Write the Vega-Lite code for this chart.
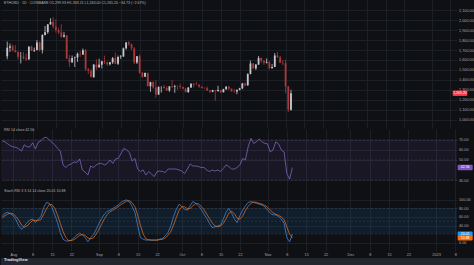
{
  "$schema": "https://vega.github.io/schema/vega-lite/v6.json",
  "padding": 0,
  "autosize": {"type": "pad"},
  "background": "#0f1014",
  "spacing": 0,
  "config": {
    "view": {"stroke": null, "fill": "#0f1014"},
    "axis": {"labelFont": "Liberation Sans", "labelFontSize": 3.8, "labelColor": "#a3a6af", "gridColor": "#1c1f26", "gridWidth": 1, "domain": false, "ticks": false, "title": null, "labelOverlap": false, "labelFlush": false, "labelSeparation": 0, "labelBound": false, "tickCount": 60},
    "title": {"font": "Liberation Sans", "fontSize": 3.6, "color": "#b2b5be", "fontWeight": "normal", "anchor": "start", "frame": "group", "baseline": "middle"},
    "text": {"font": "Liberation Sans"}
  },
  "datasets": {
    "eth": [
      {"date":"2022-07-28","o":1636,"h":1785,"l":1607,"c":1724,"rsi":69,"k":61,"dd":58},
      {"date":"2022-07-29","o":1724,"h":1765,"l":1680,"c":1738,"rsi":68,"k":69,"dd":63},
      {"date":"2022-07-30","o":1738,"h":1756,"l":1685,"c":1696,"rsi":66,"k":71,"dd":67},
      {"date":"2022-07-31","o":1696,"h":1750,"l":1673,"c":1680,"rsi":64,"k":67,"dd":69},
      {"date":"2022-08-01","o":1680,"h":1690,"l":1605,"c":1632,"rsi":63,"k":63,"dd":67},
      {"date":"2022-08-02","o":1632,"h":1680,"l":1565,"c":1633,"rsi":62.5,"k":53,"dd":61},
      {"date":"2022-08-03","o":1633,"h":1680,"l":1605,"c":1618,"rsi":61,"k":39,"dd":52},
      {"date":"2022-08-04","o":1618,"h":1665,"l":1590,"c":1607,"rsi":59,"k":31,"dd":41},
      {"date":"2022-08-05","o":1607,"h":1740,"l":1600,"c":1733,"rsi":65,"k":39,"dd":36},
      {"date":"2022-08-06","o":1733,"h":1745,"l":1690,"c":1694,"rsi":63,"k":47,"dd":39},
      {"date":"2022-08-07","o":1694,"h":1725,"l":1680,"c":1701,"rsi":63,"k":53,"dd":46},
      {"date":"2022-08-08","o":1701,"h":1800,"l":1696,"c":1777,"rsi":67,"k":55,"dd":52},
      {"date":"2022-08-09","o":1777,"h":1786,"l":1685,"c":1702,"rsi":61,"k":47,"dd":52},
      {"date":"2022-08-10","o":1702,"h":1858,"l":1666,"c":1852,"rsi":67.5,"k":55,"dd":52},
      {"date":"2022-08-11","o":1852,"h":1942,"l":1847,"c":1880,"rsi":69,"k":61,"dd":54},
      {"date":"2022-08-12","o":1880,"h":1960,"l":1863,"c":1958,"rsi":72,"k":82,"dd":66},
      {"date":"2022-08-13","o":1958,"h":2020,"l":1955,"c":1982,"rsi":72.5,"k":94,"dd":79},
      {"date":"2022-08-14","o":1982,"h":2031,"l":1915,"c":1936,"rsi":70,"k":92,"dd":89},
      {"date":"2022-08-15","o":1936,"h":2010,"l":1875,"c":1902,"rsi":67.5,"k":82,"dd":89},
      {"date":"2022-08-16","o":1902,"h":1924,"l":1860,"c":1877,"rsi":65,"k":65,"dd":80},
      {"date":"2022-08-17","o":1877,"h":1960,"l":1822,"c":1833,"rsi":61.5,"k":47,"dd":65},
      {"date":"2022-08-18","o":1833,"h":1880,"l":1825,"c":1848,"rsi":59,"k":24,"dd":45},
      {"date":"2022-08-19","o":1848,"h":1850,"l":1610,"c":1613,"rsi":45,"k":8,"dd":26},
      {"date":"2022-08-20","o":1613,"h":1650,"l":1530,"c":1578,"rsi":42.5,"k":4,"dd":12},
      {"date":"2022-08-21","o":1578,"h":1645,"l":1570,"c":1620,"rsi":45,"k":4,"dd":5},
      {"date":"2022-08-22","o":1620,"h":1635,"l":1530,"c":1625,"rsi":46,"k":6,"dd":5},
      {"date":"2022-08-23","o":1625,"h":1675,"l":1580,"c":1662,"rsi":48,"k":12,"dd":7},
      {"date":"2022-08-24","o":1662,"h":1690,"l":1630,"c":1656,"rsi":47.5,"k":18,"dd":12},
      {"date":"2022-08-25","o":1656,"h":1715,"l":1650,"c":1697,"rsi":51,"k":22,"dd":17},
      {"date":"2022-08-26","o":1697,"h":1710,"l":1490,"c":1506,"rsi":40,"k":18,"dd":19},
      {"date":"2022-08-27","o":1506,"h":1520,"l":1460,"c":1490,"rsi":38,"k":12,"dd":17},
      {"date":"2022-08-28","o":1490,"h":1510,"l":1425,"c":1428,"rsi":35,"k":2,"dd":11},
      {"date":"2022-08-29","o":1428,"h":1560,"l":1420,"c":1553,"rsi":44,"k":12,"dd":9},
      {"date":"2022-08-30","o":1553,"h":1605,"l":1500,"c":1525,"rsi":42.5,"k":18,"dd":11},
      {"date":"2022-08-31","o":1525,"h":1612,"l":1525,"c":1553,"rsi":45,"k":31,"dd":20},
      {"date":"2022-09-01","o":1553,"h":1592,"l":1515,"c":1586,"rsi":46.5,"k":45,"dd":31},
      {"date":"2022-09-02","o":1586,"h":1643,"l":1560,"c":1577,"rsi":46.5,"k":57,"dd":44},
      {"date":"2022-09-03","o":1577,"h":1580,"l":1540,"c":1557,"rsi":45,"k":67,"dd":56},
      {"date":"2022-09-04","o":1557,"h":1580,"l":1545,"c":1576,"rsi":46.5,"k":73,"dd":66},
      {"date":"2022-09-05","o":1576,"h":1630,"l":1560,"c":1618,"rsi":50,"k":76,"dd":72},
      {"date":"2022-09-06","o":1618,"h":1675,"l":1560,"c":1562,"rsi":46.5,"k":80,"dd":76},
      {"date":"2022-09-07","o":1562,"h":1645,"l":1550,"c":1630,"rsi":51,"k":84,"dd":80},
      {"date":"2022-09-08","o":1630,"h":1650,"l":1610,"c":1635,"rsi":51.5,"k":88,"dd":84},
      {"date":"2022-09-09","o":1635,"h":1725,"l":1633,"c":1717,"rsi":56.5,"k":94,"dd":89},
      {"date":"2022-09-10","o":1717,"h":1780,"l":1705,"c":1776,"rsi":61.5,"k":98,"dd":93},
      {"date":"2022-09-11","o":1776,"h":1790,"l":1740,"c":1760,"rsi":60,"k":100,"dd":97},
      {"date":"2022-09-12","o":1760,"h":1765,"l":1700,"c":1716,"rsi":57.5,"k":96,"dd":98},
      {"date":"2022-09-13","o":1716,"h":1730,"l":1560,"c":1574,"rsi":49,"k":84,"dd":93},
      {"date":"2022-09-14","o":1574,"h":1640,"l":1560,"c":1637,"rsi":51.5,"k":71,"dd":84},
      {"date":"2022-09-15","o":1637,"h":1655,"l":1460,"c":1471,"rsi":41,"k":41,"dd":65},
      {"date":"2022-09-16","o":1471,"h":1480,"l":1418,"c":1432,"rsi":38.5,"k":12,"dd":41},
      {"date":"2022-09-17","o":1432,"h":1475,"l":1428,"c":1470,"rsi":40,"k":8,"dd":20},
      {"date":"2022-09-18","o":1470,"h":1472,"l":1335,"c":1336,"rsi":35,"k":6,"dd":9},
      {"date":"2022-09-19","o":1336,"h":1380,"l":1280,"c":1378,"rsi":38.5,"k":6,"dd":7},
      {"date":"2022-09-20","o":1378,"h":1385,"l":1310,"c":1324,"rsi":36,"k":6,"dd":6},
      {"date":"2022-09-21","o":1324,"h":1395,"l":1220,"c":1252,"rsi":33.5,"k":6,"dd":6},
      {"date":"2022-09-22","o":1252,"h":1335,"l":1250,"c":1328,"rsi":38.5,"k":6,"dd":6},
      {"date":"2022-09-23","o":1328,"h":1335,"l":1272,"c":1328,"rsi":39,"k":8,"dd":7},
      {"date":"2022-09-24","o":1328,"h":1350,"l":1310,"c":1317,"rsi":38.5,"k":10,"dd":8},
      {"date":"2022-09-25","o":1317,"h":1335,"l":1290,"c":1294,"rsi":37.5,"k":16,"dd":11},
      {"date":"2022-09-26","o":1294,"h":1335,"l":1280,"c":1335,"rsi":41,"k":24,"dd":17},
      {"date":"2022-09-27","o":1335,"h":1400,"l":1318,"c":1330,"rsi":41,"k":39,"dd":26},
      {"date":"2022-09-28","o":1330,"h":1350,"l":1270,"c":1337,"rsi":41,"k":61,"dd":41},
      {"date":"2022-09-29","o":1337,"h":1345,"l":1300,"c":1336,"rsi":41,"k":78,"dd":59},
      {"date":"2022-09-30","o":1336,"h":1365,"l":1310,"c":1328,"rsi":40,"k":90,"dd":76},
      {"date":"2022-10-01","o":1328,"h":1332,"l":1305,"c":1312,"rsi":39,"k":84,"dd":84},
      {"date":"2022-10-02","o":1312,"h":1320,"l":1275,"c":1276,"rsi":36.5,"k":78,"dd":84},
      {"date":"2022-10-03","o":1276,"h":1327,"l":1270,"c":1323,"rsi":41,"k":76,"dd":79},
      {"date":"2022-10-04","o":1323,"h":1365,"l":1320,"c":1362,"rsi":46,"k":86,"dd":80},
      {"date":"2022-10-05","o":1362,"h":1365,"l":1324,"c":1352,"rsi":44,"k":96,"dd":86},
      {"date":"2022-10-06","o":1352,"h":1380,"l":1345,"c":1351,"rsi":44,"k":92,"dd":91},
      {"date":"2022-10-07","o":1351,"h":1357,"l":1320,"c":1332,"rsi":43.5,"k":86,"dd":91},
      {"date":"2022-10-08","o":1332,"h":1337,"l":1315,"c":1317,"rsi":42.5,"k":78,"dd":85},
      {"date":"2022-10-09","o":1317,"h":1325,"l":1310,"c":1316,"rsi":42.5,"k":67,"dd":77},
      {"date":"2022-10-10","o":1316,"h":1332,"l":1290,"c":1292,"rsi":40,"k":57,"dd":67},
      {"date":"2022-10-11","o":1292,"h":1296,"l":1270,"c":1280,"rsi":38.5,"k":45,"dd":56},
      {"date":"2022-10-12","o":1280,"h":1300,"l":1275,"c":1296,"rsi":40,"k":35,"dd":46},
      {"date":"2022-10-13","o":1296,"h":1298,"l":1190,"c":1288,"rsi":39,"k":37,"dd":39},
      {"date":"2022-10-14","o":1288,"h":1340,"l":1280,"c":1297,"rsi":40,"k":39,"dd":37},
      {"date":"2022-10-15","o":1297,"h":1300,"l":1270,"c":1275,"rsi":38.5,"k":41,"dd":39},
      {"date":"2022-10-16","o":1275,"h":1310,"l":1275,"c":1306,"rsi":41.5,"k":55,"dd":45},
      {"date":"2022-10-17","o":1306,"h":1338,"l":1300,"c":1331,"rsi":45,"k":71,"dd":56},
      {"date":"2022-10-18","o":1331,"h":1340,"l":1295,"c":1311,"rsi":43.5,"k":80,"dd":69},
      {"date":"2022-10-19","o":1311,"h":1314,"l":1280,"c":1286,"rsi":41,"k":69,"dd":73},
      {"date":"2022-10-20","o":1286,"h":1310,"l":1270,"c":1283,"rsi":41,"k":55,"dd":68},
      {"date":"2022-10-21","o":1283,"h":1305,"l":1255,"c":1299,"rsi":42.5,"k":47,"dd":57},
      {"date":"2022-10-22","o":1299,"h":1320,"l":1295,"c":1315,"rsi":45,"k":63,"dd":55},
      {"date":"2022-10-23","o":1315,"h":1370,"l":1305,"c":1364,"rsi":51.5,"k":76,"dd":62},
      {"date":"2022-10-24","o":1364,"h":1372,"l":1335,"c":1345,"rsi":50,"k":86,"dd":75},
      {"date":"2022-10-25","o":1345,"h":1465,"l":1340,"c":1460,"rsi":63,"k":94,"dd":85},
      {"date":"2022-10-26","o":1460,"h":1595,"l":1455,"c":1565,"rsi":71.5,"k":96,"dd":92},
      {"date":"2022-10-27","o":1565,"h":1570,"l":1510,"c":1515,"rsi":66.5,"k":94,"dd":95},
      {"date":"2022-10-28","o":1515,"h":1560,"l":1500,"c":1554,"rsi":68,"k":92,"dd":94},
      {"date":"2022-10-29","o":1554,"h":1640,"l":1550,"c":1620,"rsi":71,"k":90,"dd":92},
      {"date":"2022-10-30","o":1620,"h":1625,"l":1570,"c":1590,"rsi":68,"k":88,"dd":90},
      {"date":"2022-10-31","o":1590,"h":1600,"l":1550,"c":1571,"rsi":66.5,"k":84,"dd":87},
      {"date":"2022-11-01","o":1571,"h":1615,"l":1565,"c":1578,"rsi":66,"k":76,"dd":83},
      {"date":"2022-11-02","o":1578,"h":1590,"l":1505,"c":1518,"rsi":58,"k":69,"dd":76},
      {"date":"2022-11-03","o":1518,"h":1560,"l":1515,"c":1530,"rsi":60,"k":65,"dd":70},
      {"date":"2022-11-04","o":1530,"h":1670,"l":1528,"c":1645,"rsi":68,"k":65,"dd":66},
      {"date":"2022-11-05","o":1645,"h":1680,"l":1620,"c":1628,"rsi":66,"k":61,"dd":64},
      {"date":"2022-11-06","o":1628,"h":1640,"l":1570,"c":1571,"rsi":60,"k":55,"dd":60},
      {"date":"2022-11-07","o":1571,"h":1600,"l":1548,"c":1567,"rsi":58,"k":45,"dd":54},
      {"date":"2022-11-08","o":1567,"h":1603,"l":1265,"c":1335,"rsi":36.5,"k":12,"dd":37},
      {"date":"2022-11-09","o":1335,"h":1340,"l":1075,"c":1100,"rsi":31,"k":2,"dd":20},
      {"date":"2022-11-10","o":1100,"h":1300,"l":1090,"c":1265,"rsi":42.5,"k":20,"dd":11}
    ]
  },
  "vconcat": [
    {
      "width": 456,
      "height": 128,
      "title": {"text": "ETHUSD · 1D · COINBASE   O1,299.93  H1,333.11  L1,263.00  C1,265.20  −34.73 (−2.67%)", "offset": -5, "dx": 3},
      "data": {"name": "eth"},
      "layer": [
        {
          "mark": {"type": "rule", "strokeWidth": 0.8},
          "encoding": {
            "x": {"field": "date", "type": "temporal",
              "scale": {"type": "utc", "domain": [{"year": 2022, "month": 7, "date": 27, "hours": 13, "utc": true}, {"year": 2023, "month": 1, "date": 8, "hours": 14, "utc": true}]},
              "axis": {"orient": "bottom", "labels": false, "grid": true, "minExtent": 0, "maxExtent": 0, "labelOverlap": false, "tickCount": 60,
                "values": [{"year":2022,"month":8,"date":1,"utc":true},{"year":2022,"month":8,"date":8,"utc":true},{"year":2022,"month":8,"date":15,"utc":true},{"year":2022,"month":8,"date":22,"utc":true},{"year":2022,"month":9,"date":1,"utc":true},{"year":2022,"month":9,"date":8,"utc":true},{"year":2022,"month":9,"date":15,"utc":true},{"year":2022,"month":9,"date":22,"utc":true},{"year":2022,"month":10,"date":1,"utc":true},{"year":2022,"month":10,"date":8,"utc":true},{"year":2022,"month":10,"date":15,"utc":true},{"year":2022,"month":10,"date":22,"utc":true},{"year":2022,"month":11,"date":1,"utc":true},{"year":2022,"month":11,"date":8,"utc":true},{"year":2022,"month":11,"date":15,"utc":true},{"year":2022,"month":11,"date":22,"utc":true},{"year":2022,"month":12,"date":1,"utc":true},{"year":2022,"month":12,"date":8,"utc":true},{"year":2022,"month":12,"date":15,"utc":true},{"year":2022,"month":12,"date":22,"utc":true},{"year":2023,"month":1,"date":1,"utc":true},{"year":2023,"month":1,"date":8,"utc":true}]}},
            "y": {"field": "l", "type": "quantitative",
              "scale": {"domain": [966, 2153], "zero": false, "nice": false},
              "axis": {"orient": "right", "grid": true, "format": ",.2f", "labelPadding": 1.5, "minExtent": 18, "maxExtent": 18, "labelOverlap": false, "tickCount": 60,
                "values": [1000, 1100, 1200, 1300, 1400, 1500, 1600, 1700, 1800, 1900, 2000, 2100]}},
            "y2": {"field": "h"},
            "color": {"condition": {"test": "datum.c >= datum.o", "value": "#c4c7cf"}, "value": "#a8393a"}
          }
        },
        {
          "mark": {"type": "bar", "size": 1.8},
          "encoding": {
            "x": {"field": "date", "type": "temporal"},
            "y": {"field": "o", "type": "quantitative"},
            "y2": {"field": "c"},
            "color": {"condition": {"test": "datum.c >= datum.o", "value": "#c4c7cf"}, "value": "#a8393a"}
          }
        },
        {
          "data": {"values": [{"v": 1265.2}]},
          "mark": {"type": "bar", "size": 5.5, "color": "#f23645", "cornerRadius": 0.8},
          "encoding": {
            "x": {"datum": {"year": 2023, "month": 1, "date": 8, "hours": 20, "utc": true}, "type": "temporal"},
            "x2": {"datum": {"year": 2023, "month": 1, "date": 14, "hours": 6, "utc": true}},
            "y": {"field": "v", "type": "quantitative"}
          }
        },
        {
          "data": {"values": [{"v": 1265.2}]},
          "mark": {"type": "text", "fontSize": 3.5, "color": "#ffffff", "align": "center", "baseline": "middle"},
          "encoding": {
            "x": {"datum": {"year": 2023, "month": 1, "date": 11, "hours": 13, "utc": true}, "type": "temporal"},
            "y": {"field": "v", "type": "quantitative"},
            "text": {"field": "v", "type": "quantitative", "format": ",.2f"}
          }
        }
      ]
    },
    {
      "width": 456,
      "height": 60,
      "title": {"text": "RSI 14 close   42.56", "offset": -2.6, "dx": 3},
      "layer": [
        {
          "data": {"values": [{"lo": 30, "hi": 70}]},
          "mark": {"type": "rect", "fill": "#7e57c2", "fillOpacity": 0.1},
          "encoding": {
            "y": {"field": "lo", "type": "quantitative",
              "scale": {"domain": [26.1, 75.8], "zero": false, "nice": false},
              "axis": {"orient": "right", "grid": true, "format": ".2f", "labelPadding": 1.5, "minExtent": 18, "maxExtent": 18, "labelOverlap": false, "tickCount": 60, "values": [30, 50, 60, 70]}},
            "y2": {"field": "hi"}
          }
        },
        {
          "data": {"values": [{"v": 30}, {"v": 50}, {"v": 70}]},
          "mark": {"type": "rule", "stroke": "#5d606b", "strokeWidth": 0.6, "strokeDash": [2, 2], "opacity": 0.5},
          "encoding": {"y": {"field": "v", "type": "quantitative"}}
        },
        {
          "data": {"name": "eth"},
          "mark": {"type": "line", "color": "#8a6fcf", "strokeWidth": 0.7},
          "encoding": {
            "x": {"field": "date", "type": "temporal",
              "scale": {"type": "utc", "domain": [{"year": 2022, "month": 7, "date": 27, "hours": 13, "utc": true}, {"year": 2023, "month": 1, "date": 8, "hours": 14, "utc": true}]},
              "axis": {"orient": "bottom", "labels": false, "grid": true, "minExtent": 0, "maxExtent": 0, "labelOverlap": false, "tickCount": 60,
                "values": [{"year":2022,"month":8,"date":1,"utc":true},{"year":2022,"month":8,"date":8,"utc":true},{"year":2022,"month":8,"date":15,"utc":true},{"year":2022,"month":8,"date":22,"utc":true},{"year":2022,"month":9,"date":1,"utc":true},{"year":2022,"month":9,"date":8,"utc":true},{"year":2022,"month":9,"date":15,"utc":true},{"year":2022,"month":9,"date":22,"utc":true},{"year":2022,"month":10,"date":1,"utc":true},{"year":2022,"month":10,"date":8,"utc":true},{"year":2022,"month":10,"date":15,"utc":true},{"year":2022,"month":10,"date":22,"utc":true},{"year":2022,"month":11,"date":1,"utc":true},{"year":2022,"month":11,"date":8,"utc":true},{"year":2022,"month":11,"date":15,"utc":true},{"year":2022,"month":11,"date":22,"utc":true},{"year":2022,"month":12,"date":1,"utc":true},{"year":2022,"month":12,"date":8,"utc":true},{"year":2022,"month":12,"date":15,"utc":true},{"year":2022,"month":12,"date":22,"utc":true},{"year":2023,"month":1,"date":1,"utc":true},{"year":2023,"month":1,"date":8,"utc":true}]}},
            "y": {"field": "rsi", "type": "quantitative"}
          }
        },
        {
          "data": {"values": [{"v": 42.56}]},
          "mark": {"type": "bar", "size": 5.5, "color": "#7e57c2", "cornerRadius": 0.8},
          "encoding": {
            "x": {"datum": {"year": 2023, "month": 1, "date": 8, "hours": 20, "utc": true}, "type": "temporal"},
            "x2": {"datum": {"year": 2023, "month": 1, "date": 14, "hours": 6, "utc": true}},
            "y": {"field": "v", "type": "quantitative"}
          }
        },
        {
          "data": {"values": [{"v": 42.56}]},
          "mark": {"type": "text", "fontSize": 3.5, "color": "#ffffff", "align": "center", "baseline": "middle"},
          "encoding": {
            "x": {"datum": {"year": 2023, "month": 1, "date": 11, "hours": 13, "utc": true}, "type": "temporal"},
            "y": {"field": "v", "type": "quantitative"},
            "text": {"field": "v", "type": "quantitative", "format": ".2f"}
          }
        }
      ]
    },
    {
      "width": 456,
      "height": 62,
      "title": {"text": "Stoch RSI 3 3 14 14 close   20.01   10.88", "offset": -3.7, "dx": 3},
      "layer": [
        {
          "data": {"values": [{"lo": 20, "hi": 80}]},
          "mark": {"type": "rect", "fill": "#2196f3", "fillOpacity": 0.1},
          "encoding": {
            "y": {"field": "lo", "type": "quantitative",
              "scale": {"domain": [-7.8, 113.7], "zero": false, "nice": false},
              "axis": {"orient": "right", "grid": true, "format": ".2f", "labelPadding": 1.5, "minExtent": 18, "maxExtent": 18, "labelOverlap": false, "tickCount": 60, "values": [0, 40, 60, 80, 100]}},
            "y2": {"field": "hi"}
          }
        },
        {
          "data": {"values": [{"v": 20}, {"v": 50}, {"v": 80}]},
          "mark": {"type": "rule", "stroke": "#5d606b", "strokeWidth": 0.6, "strokeDash": [2, 2], "opacity": 0.5},
          "encoding": {"y": {"field": "v", "type": "quantitative"}}
        },
        {
          "data": {"name": "eth"},
          "mark": {"type": "line", "color": "#4a8fe8", "strokeWidth": 0.7},
          "encoding": {
            "x": {"field": "date", "type": "temporal",
              "scale": {"type": "utc", "domain": [{"year": 2022, "month": 7, "date": 27, "hours": 13, "utc": true}, {"year": 2023, "month": 1, "date": 8, "hours": 14, "utc": true}]},
              "axis": {"orient": "bottom", "labels": true, "grid": true, "labelPadding": 1.5, "minExtent": 7, "maxExtent": 7, "labelAlign": "center", "labelOverlap": false, "labelFlush": false, "tickCount": 60,
                "labelExpr": "utcdate(datum.value) == 1 ? (utcmonth(datum.value) == 0 ? utcFormat(datum.value, '%Y') : utcFormat(datum.value, '%b')) : '' + utcdate(datum.value)",
                "values": [{"year":2022,"month":8,"date":1,"utc":true},{"year":2022,"month":8,"date":8,"utc":true},{"year":2022,"month":8,"date":15,"utc":true},{"year":2022,"month":8,"date":22,"utc":true},{"year":2022,"month":9,"date":1,"utc":true},{"year":2022,"month":9,"date":8,"utc":true},{"year":2022,"month":9,"date":15,"utc":true},{"year":2022,"month":9,"date":22,"utc":true},{"year":2022,"month":10,"date":1,"utc":true},{"year":2022,"month":10,"date":8,"utc":true},{"year":2022,"month":10,"date":15,"utc":true},{"year":2022,"month":10,"date":22,"utc":true},{"year":2022,"month":11,"date":1,"utc":true},{"year":2022,"month":11,"date":8,"utc":true},{"year":2022,"month":11,"date":15,"utc":true},{"year":2022,"month":11,"date":22,"utc":true},{"year":2022,"month":12,"date":1,"utc":true},{"year":2022,"month":12,"date":8,"utc":true},{"year":2022,"month":12,"date":15,"utc":true},{"year":2022,"month":12,"date":22,"utc":true},{"year":2023,"month":1,"date":1,"utc":true},{"year":2023,"month":1,"date":8,"utc":true}]}},
            "y": {"field": "k", "type": "quantitative"}
          }
        },
        {
          "data": {"name": "eth"},
          "mark": {"type": "line", "color": "#e8762a", "strokeWidth": 0.7},
          "encoding": {
            "x": {"field": "date", "type": "temporal"},
            "y": {"field": "dd", "type": "quantitative"}
          }
        },
        {
          "data": {"values": [{"v": 20.01, "s": "K"}, {"v": 10.88, "s": "D"}]},
          "mark": {"type": "bar", "size": 5, "cornerRadius": 0.8},
          "encoding": {
            "x": {"datum": {"year": 2023, "month": 1, "date": 8, "hours": 20, "utc": true}, "type": "temporal"},
            "x2": {"datum": {"year": 2023, "month": 1, "date": 14, "hours": 6, "utc": true}},
            "y": {"field": "v", "type": "quantitative"},
            "color": {"field": "s", "type": "nominal", "scale": {"domain": ["K", "D"], "range": ["#2196f3", "#ff6d00"]}, "legend": null}
          }
        },
        {
          "data": {"values": [{"v": 20.01}, {"v": 10.88}]},
          "mark": {"type": "text", "fontSize": 3.5, "color": "#ffffff", "align": "center", "baseline": "middle"},
          "encoding": {
            "x": {"datum": {"year": 2023, "month": 1, "date": 11, "hours": 13, "utc": true}, "type": "temporal"},
            "y": {"field": "v", "type": "quantitative"},
            "text": {"field": "v", "type": "quantitative", "format": ".2f"}
          }
        }
      ]
    },
    {
      "width": 474,
      "height": 8,
      "view": {"fill": "#23262e"},
      "title": {"text": "TradingView", "offset": -4, "dx": 3, "anchor": "start", "align": "left", "frame": "group", "color": "#e0e3eb", "fontWeight": "bold", "fontSize": 4},
      "data": {"values": [{"a": 1}]},
      "mark": {"type": "rect", "fill": "#23262e"},
      "encoding": {}
    }
  ]
}
